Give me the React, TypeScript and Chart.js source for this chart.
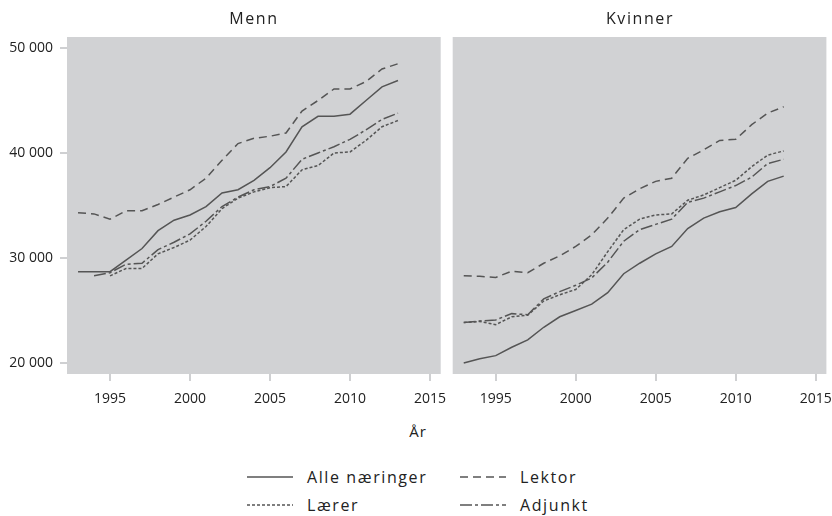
import React, { useEffect, useRef } from "react";
import { Chart, registerables } from "chart.js";

Chart.register(...registerables);

const years = [1993, 1994, 1995, 1996, 1997, 1998, 1999, 2000, 2001, 2002, 2003, 2004, 2005, 2006, 2007, 2008, 2009, 2010, 2011, 2012, 2013];

const alleMenn = [28700, 28700, 28700, 29800, 30900, 32600, 33600, 34100, 34900, 36200, 36500, 37400, 38600, 40100, 42500, 43500, 43500, 43700, 45000, 46300, 46900];
const lektorMenn = [34300, 34200, 33700, 34500, 34500, 35100, 35800, 36500, 37600, 39300, 40900, 41400, 41600, 41900, 44000, 45000, 46100, 46100, 46800, 48000, 48500];
const laererMenn = [null, null, 28300, 29000, 29000, 30400, 31000, 31700, 33000, 34700, 35700, 36300, 36700, 36800, 38400, 38800, 40000, 40100, 41200, 42500, 43100];
const adjunktMenn = [null, 28300, 28600, 29400, 29500, 30800, 31500, 32300, 33500, 34900, 35800, 36500, 36800, 37600, 39400, 40000, 40600, 41300, 42200, 43200, 43800];

const alleKvinner = [20000, 20400, 20700, 21500, 22200, 23400, 24400, 25000, 25600, 26700, 28500, 29500, 30400, 31100, 32800, 33800, 34400, 34800, 36100, 37300, 37800];
const lektorKvinner = [28300, 28250, 28150, 28750, 28600, 29500, 30200, 31100, 32200, 33800, 35700, 36600, 37300, 37600, 39500, 40300, 41200, 41300, 42700, 43800, 44400];
const laererKvinner = [23850, 23950, 23650, 24400, 24550, 25900, 26500, 27000, 28400, 30600, 32700, 33700, 34100, 34200, 35500, 36000, 36700, 37400, 38700, 39800, 40200];
const adjunktKvinner = [23850, 24000, 24100, 24700, 24600, 26100, 26800, 27400, 28100, 29600, 31600, 32700, 33200, 33700, 35300, 35700, 36300, 36900, 37700, 39000, 39400];

const xTicks = [1995, 2000, 2005, 2010, 2015];
const yTicks = [20000, 30000, 40000, 50000];
const seriesNames = ["Alle næringer", "Lektor", "Lærer", "Adjunkt"];
const panelTitles = ["Menn", "Kvinner"];
const axisTitle = "År";

const LINE = "#555555";
const PANEL = "#d1d2d4";
const TICK = "#cfd0d2";
const TEXT = "#222222";
const FONT = "'Open Sans', 'DejaVu Sans', sans-serif";
const dashes: number[][] = [[], [8, 5], [3, 2], [12, 3, 3, 3]];

const fmt = (v: number) => String(v).replace(/\B(?=(\d{3})+(?!\d))/g, " ");

const bgPlugin = {
  id: "panelBg",
  beforeDraw(chart: any) {
    const { ctx, chartArea } = chart;
    ctx.save();
    ctx.fillStyle = PANEL;
    ctx.fillRect(chartArea.left, chartArea.top, chartArea.right - chartArea.left, chartArea.bottom - chartArea.top);
    ctx.restore();
  },
};

function makeConfig(data: (number | null)[][], showY: boolean, padL: number, padR: number, h: number) {
  return {
    type: "line" as const,
    data: {
      datasets: data.map((arr, i) => ({
        label: seriesNames[i],
        data: years.map((y, j) => ({ x: y, y: arr[j] })),
        borderColor: LINE,
        borderWidth: 1.5,
        borderDash: dashes[i],
        pointRadius: 0,
        fill: false,
        tension: 0,
      })),
    },
    options: {
      responsive: false,
      animation: false,
      layout: { padding: { left: padL, right: padR, top: 37, bottom: 0 } },
      plugins: {
        legend: { display: false },
        tooltip: { enabled: false },
        title: { display: false },
      },
      scales: {
        x: {
          type: "linear",
          min: 1992.31,
          max: 2015.67,
          afterFit: (s: any) => { s.height = h - 374; s.paddingLeft = 0; s.paddingRight = 0; },
          afterBuildTicks: (s: any) => { s.ticks = xTicks.map((v) => ({ value: v })); },
          ticks: { color: TEXT, font: { family: FONT, size: 14 }, padding: 10, maxRotation: 0, autoSkip: false, callback: (v: any) => String(v) },
          grid: { drawOnChartArea: false, drawTicks: true, tickLength: 7, color: TICK, lineWidth: 2 },
          border: { display: false },
        },
        y: {
          type: "linear",
          min: 18950,
          max: 51050,
          display: showY ? true : false,
          afterFit: (s: any) => { s.width = showY ? 67 : 0; s.paddingTop = 0; s.paddingBottom = 0; },
          afterBuildTicks: (s: any) => { s.ticks = yTicks.map((v) => ({ value: v })); },
          ticks: { color: TEXT, font: { family: FONT, size: 14 }, padding: 7, callback: (v: any) => fmt(v) },
          grid: { drawOnChartArea: false, drawTicks: true, tickLength: 7, color: TICK, lineWidth: 2 },
          border: { display: false },
        },
      },
    },
    plugins: [bgPlugin],
  };
}

function Panel({ title, data, showY, left, width, padL, padR, titleX }: any) {
  const ref = useRef<HTMLCanvasElement>(null);
  const H = 412;
  useEffect(() => {
    if (!ref.current) return;
    const chart = new Chart(ref.current, makeConfig(data, showY, padL, padR, H) as any);
    return () => chart.destroy();
  }, []);
  return (
    <div style={{ position: "absolute", left, top: 0, width, height: H }}>
      <canvas ref={ref} width={width} height={H} style={{ display: "block" }} />
      <div style={{ position: "absolute", left: titleX - 60, width: 120, top: 6, textAlign: "center", fontSize: 16, letterSpacing: "1.6px", color: TEXT, lineHeight: "24px" }}>{title}</div>
    </div>
  );
}

function LegendItem({ dash, label, x, y }: { dash: number[]; label: string; x: number; y: number }) {
  return (
    <div style={{ position: "absolute", left: x, top: y - 12, height: 24, display: "flex", alignItems: "center" }}>
      <svg width={46} height={6} style={{ display: "block" }}>
        <line x1={0} y1={3} x2={46} y2={3} stroke={LINE} strokeWidth={1.5} strokeDasharray={dash.length ? dash.join(",") : undefined} />
      </svg>
      <span style={{ marginLeft: 14, fontSize: 16, letterSpacing: "1.6px", color: TEXT, lineHeight: "24px" }}>{label}</span>
    </div>
  );
}

export default function App() {
  return (
    <div style={{ position: "absolute", left: 0, top: 0, width: 832, height: 516, background: "#fff", fontFamily: FONT, overflow: "hidden" }}>
      <Panel title={panelTitles[0]} titleX={254} data={[alleMenn, lektorMenn, laererMenn, adjunktMenn]} showY={true} left={0} width={446} padL={0} padR={5.3} />
      <Panel title={panelTitles[1]} titleX={194} data={[alleKvinner, lektorKvinner, laererKvinner, adjunktKvinner]} showY={false} left={446} width={386} padL={6.7} padR={5.6} />
      <div style={{ position: "absolute", left: 368, width: 100, top: 420, textAlign: "center", fontSize: 15, letterSpacing: "1px", color: TEXT, lineHeight: "22px" }}>{axisTitle}</div>
      <LegendItem dash={dashes[0]} label={seriesNames[0]} x={247} y={477} />
      <LegendItem dash={dashes[1]} label={seriesNames[1]} x={460} y={477} />
      <LegendItem dash={dashes[2]} label={seriesNames[2]} x={247} y={505} />
      <LegendItem dash={dashes[3]} label={seriesNames[3]} x={460} y={505} />
    </div>
  );
}
